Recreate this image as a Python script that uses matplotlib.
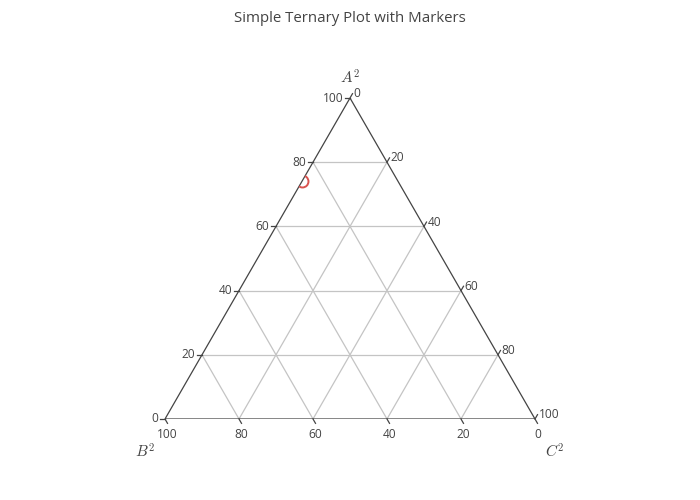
import matplotlib
matplotlib.use('Agg')
import matplotlib.pyplot as plt
from matplotlib.patches import Polygon
import numpy as np

title = 'Simple Ternary Plot with Markers'
axis_titles = ['$A^2$', '$B^2$', '$C^2$']
tick_values = [0, 20, 40, 60, 80, 100]

# marker data (ternary components, percent)
pt_a = [74]
pt_b = [26]
pt_c = [0]

plt.rcParams['font.family'] = ['Open Sans', 'DejaVu Sans']
plt.rcParams['mathtext.fontset'] = 'cm'

edge_col = '#444444'
grid_col = '#c4c4c4'
text_col = '#444444'
marker_col = '#d9534f'

H = np.sqrt(3) / 2


def tern(a, b, c):
    # A top, B bottom-left, C bottom-right
    a, b, c = np.asarray(a, float), np.asarray(b, float), np.asarray(c, float)
    s = a + b + c
    a, b, c = a / s, b / s, c / s
    return 0.5 * a + c, H * a


fig = plt.figure(figsize=(7, 5), dpi=100)
ax = fig.add_axes([165 / 700, 81 / 500, 370 / 700, 321 / 500])
ax.set_xlim(0, 1)
ax.set_ylim(0, H)
ax.axis('off')

fig.text(0.5, 1 - 19 / 500, title, ha='center', va='center', fontsize=10.8, color=text_col)

# grid lines
for v in tick_values[1:-1]:
    w = 100 - v
    # constant a
    x, y = tern([v, v], [w, 0], [0, w])
    ax.plot(x, y, color=grid_col, lw=0.9, zorder=1)
    # constant b
    x, y = tern([w, 0], [v, v], [0, w])
    ax.plot(x, y, color=grid_col, lw=0.9, zorder=1)
    # constant c
    x, y = tern([w, 0], [0, w], [v, v])
    ax.plot(x, y, color=grid_col, lw=0.9, zorder=1)

# triangle edges
tri_x, tri_y = tern([100, 0, 0], [0, 100, 0], [0, 0, 100])
tri = Polygon(np.column_stack([tri_x, tri_y]), closed=True, fill=False,
              edgecolor=edge_col, lw=0.9, zorder=2)
ax.add_patch(tri)

# ticks and labels
tl = 5 / 370
fs = 8.6
for v in tick_values:
    # A axis (left edge), ticks pointing left
    x0, y0 = tern(v, 100 - v, 0)
    ax.plot([x0, x0 - tl], [y0, y0], color=edge_col, lw=0.9, clip_on=False)
    ax.text(x0 - tl - 1.5 / 370, y0, str(v), ha='right', va='center', fontsize=fs, color=text_col)
    # B axis (bottom edge), ticks pointing down-right
    x0, y0 = tern(0, v, 100 - v)
    dx, dy = tl * 0.5, -tl * H
    ax.plot([x0, x0 + dx], [y0, y0 + dy], color=edge_col, lw=0.9, clip_on=False)
    ax.text(x0 + dx, y0 + dy - 5 / 370, str(v), ha='center', va='top', fontsize=fs, color=text_col)
    # C axis (right edge), ticks pointing up-right
    x0, y0 = tern(100 - v, 0, v)
    dx, dy = tl * 0.5, tl * H
    ax.plot([x0, x0 + dx], [y0, y0 + dy], color=edge_col, lw=0.9, clip_on=False)
    ax.text(x0 + dx + 1 / 370, y0 + dy, str(v), ha='left', va='center', fontsize=fs, color=text_col)

# axis titles
ax.text(0.5, H + 19 / 370, axis_titles[0], ha='center', va='center', fontsize=11, color=text_col, clip_on=False)
ax.text(-20 / 370, -34 / 370, axis_titles[1], ha='center', va='center', fontsize=11, color=text_col, clip_on=False)
ax.text(1 + 20 / 370, -34 / 370, axis_titles[2], ha='center', va='center', fontsize=11, color=text_col, clip_on=False)

# marker, clipped to triangle
mx, my = tern(pt_a, pt_b, pt_c)
pts = ax.plot(mx, my, 'o', ms=8.6, mfc='none', mec=marker_col, mew=1.4, zorder=3)
for p in pts:
    p.set_clip_path(tri)

fig.savefig('out.png', dpi=100, facecolor='white')
